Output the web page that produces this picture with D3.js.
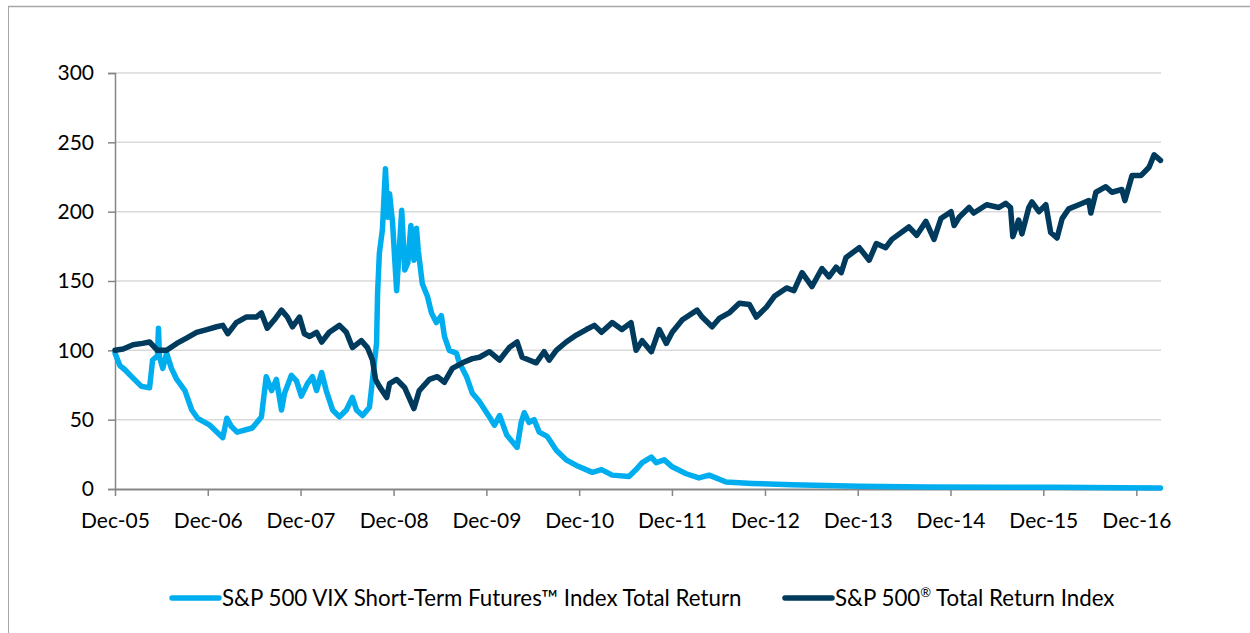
<!DOCTYPE html>
<html>
<head>
<meta charset="utf-8">
<script src="https://cdn.jsdelivr.net/npm/d3@7"></script>
<style>
  body { margin: 0; background: #fff; }
  text { font-family: Lato, 'Open Sans', sans-serif; fill: #000; }
</style>
</head>
<body>
<div id="chart"></div>
<script>
const tickLabels = ['Dec-05', 'Dec-06', 'Dec-07', 'Dec-08', 'Dec-09', 'Dec-10', 'Dec-11', 'Dec-12', 'Dec-13', 'Dec-14', 'Dec-15', 'Dec-16'];
const yTicks = [0, 50, 100, 150, 200, 250, 300];
const seriesNames = ['S&P 500 VIX Short-Term Futures\u2122 Index Total Return', 'S&P 500'];
const seriesSuffix = ['', '\u00ae'];
const seriesTail = ['', ' Total Return Index'];

const vixDates = [
  '2005-12-01', '2005-12-20', '2006-01-09', '2006-02-10', '2006-03-15', '2006-04-16', '2006-04-28', '2006-05-17',
  '2006-05-21', '2006-05-25', '2006-06-07', '2006-06-22', '2006-07-11', '2006-08-01', '2006-09-02', '2006-09-29',
  '2006-10-22', '2006-12-09', '2007-01-29', '2007-02-14', '2007-03-04', '2007-03-27', '2007-05-25', '2007-06-30',
  '2007-07-19', '2007-08-09', '2007-08-28', '2007-09-17', '2007-09-29', '2007-10-26', '2007-11-15', '2007-12-04',
  '2007-12-28', '2008-01-17', '2008-02-02', '2008-02-22', '2008-03-11', '2008-04-05', '2008-05-02', '2008-05-29',
  '2008-06-22', '2008-07-08', '2008-08-01', '2008-08-28', '2008-09-09', '2008-09-25', '2008-09-29', '2008-10-06',
  '2008-10-18', '2008-10-30', '2008-11-08', '2008-11-15', '2008-11-27', '2008-12-05', '2008-12-13', '2009-01-02',
  '2009-01-14', '2009-01-26', '2009-02-07', '2009-02-19', '2009-03-01', '2009-03-08', '2009-03-24', '2009-04-13',
  '2009-04-29', '2009-05-18', '2009-06-07', '2009-06-19', '2009-07-08', '2009-08-05', '2009-08-17', '2009-09-14',
  '2009-10-07', '2009-11-04', '2009-12-13', '2010-01-02', '2010-01-22', '2010-02-19', '2010-04-01', '2010-04-17',
  '2010-04-29', '2010-05-18', '2010-06-07', '2010-06-27', '2010-07-28', '2010-09-02', '2010-10-11', '2010-11-20',
  '2011-01-22', '2011-02-27', '2011-04-10', '2011-06-15', '2011-07-13', '2011-08-06', '2011-09-11', '2011-09-30',
  '2011-11-01', '2011-12-02', '2012-01-26', '2012-03-16', '2012-04-25', '2012-07-01', '2012-10-12', '2013-03-17',
  '2013-12-07', '2014-09-01', '2015-07-01', '2016-01-15', '2016-10-01', '2017-03-06'
];
const vixValues = [
  98, 89, 86, 80, 74, 73, 93, 96,
  116, 95, 87, 98, 87, 79, 71, 57,
  51, 46, 37, 51, 45, 41, 44, 52,
  81, 71, 79, 57, 69, 82, 78, 67,
  76, 81, 71, 84, 71, 57, 52, 57,
  66, 57, 53, 59, 79, 105, 141, 170,
  187, 231, 196, 213, 192, 167, 143, 201,
  158, 163, 190, 165, 188, 172, 148, 139,
  127, 120, 125, 110, 100, 98, 91, 81,
  69, 63, 52, 46, 53, 39, 30, 48,
  55, 48, 50, 41, 38, 28, 21, 17,
  12, 14, 10, 9, 14, 19, 23, 19,
  21, 16, 11, 8, 10, 5, 4, 3,
  2, 1.5, 1.2, 1.3, 0.9, 0.7
];

const spxDates = [
  '2005-12-01', '2006-01-02', '2006-02-10', '2006-03-19', '2006-04-16', '2006-05-17', '2006-06-22', '2006-08-01',
  '2006-09-10', '2006-10-18', '2006-11-27', '2007-01-05', '2007-01-29', '2007-02-18', '2007-03-23', '2007-05-01',
  '2007-06-10', '2007-06-30', '2007-07-23', '2007-08-20', '2007-09-17', '2007-10-10', '2007-10-30', '2007-11-27',
  '2007-12-16', '2008-01-06', '2008-02-02', '2008-02-22', '2008-03-23', '2008-05-02', '2008-05-29', '2008-06-22',
  '2008-07-27', '2008-08-20', '2008-09-09', '2008-09-21', '2008-10-06', '2008-11-04', '2008-11-15', '2008-12-13',
  '2009-01-14', '2009-02-19', '2009-03-12', '2009-04-21', '2009-05-22', '2009-06-19', '2009-07-20', '2009-08-29',
  '2009-10-07', '2009-11-04', '2009-12-13', '2010-01-22', '2010-03-01', '2010-04-01', '2010-04-21', '2010-05-18',
  '2010-06-15', '2010-07-16', '2010-08-05', '2010-09-02', '2010-10-11', '2010-11-20', '2010-12-29', '2011-01-30',
  '2011-02-27', '2011-04-10', '2011-05-18', '2011-06-23', '2011-07-13', '2011-08-06', '2011-09-11', '2011-10-12',
  '2011-11-09', '2011-12-02', '2012-01-11', '2012-03-09', '2012-03-29', '2012-05-07', '2012-06-04', '2012-07-13',
  '2012-08-22', '2012-10-01', '2012-10-28', '2012-12-06', '2013-01-07', '2013-02-24', '2013-03-25', '2013-04-26',
  '2013-06-04', '2013-07-13', '2013-08-10', '2013-09-07', '2013-09-27', '2013-10-16', '2013-12-07', '2014-01-15',
  '2014-02-12', '2014-03-21', '2014-04-14', '2014-06-20', '2014-07-21', '2014-08-26', '2014-09-27', '2014-10-24',
  '2014-12-03', '2014-12-15', '2015-01-04', '2015-02-12', '2015-03-02', '2015-04-22', '2015-06-09', '2015-07-06',
  '2015-07-25', '2015-08-03', '2015-08-26', '2015-09-08', '2015-10-05', '2015-10-17', '2015-11-14', '2015-12-11',
  '2015-12-30', '2016-01-24', '2016-02-13', '2016-03-10', '2016-04-19', '2016-05-28', '2016-06-05', '2016-06-25',
  '2016-08-03', '2016-08-27', '2016-10-05', '2016-10-17', '2016-11-14', '2016-12-19', '2017-01-20', '2017-02-09',
  '2017-03-06'
];
const spxValues = [
  100, 101, 104, 105, 106, 100, 100, 105,
  109, 113, 115, 117, 118, 112, 120, 124,
  124, 127, 116, 122, 129, 124, 117, 124,
  112, 110, 113, 106, 113, 118, 113, 102,
  107, 102, 93, 79, 74, 66, 76, 79,
  73, 58, 71, 79, 81, 77, 87, 91,
  94, 95, 99, 93, 102, 106, 95, 93,
  91, 99, 93, 100, 106, 111, 115, 118,
  113, 120, 115, 120, 100, 107, 99, 115,
  105, 113, 122, 129, 124, 117, 123, 127,
  134, 133, 124, 131, 139, 145, 143, 156,
  146, 159, 153, 160, 156, 167, 174, 165,
  177, 174, 180, 189, 183, 193, 180, 195,
  200, 190, 196, 203, 199, 205, 203, 206,
  203, 182, 194, 184, 203, 207, 200, 205,
  185, 181, 195, 202, 205, 208, 199, 214,
  218, 214, 216, 208, 226, 226, 232, 241,
  237
];

const W = 1250, H = 633;
const plot = {left: 115, right: 1161, top: 73, bottom: 489};
const parse = d3.timeParse('%Y-%m-%d');
const tickDates = tickLabels.map((d, i) => new Date(2005 + i, 11, 1));

const svg = d3.select('#chart')
  .append('svg')
  .attr('width', W)
  .attr('height', H);

// frame
svg.append('line')
  .attr('x1', 8).attr('x2', W).attr('y1', 6.5).attr('y2', 6.5)
  .attr('stroke', '#a6a6a6').attr('stroke-width', 1.5);
svg.append('line')
  .attr('x1', 8.5).attr('x2', 8.5).attr('y1', 6).attr('y2', H)
  .attr('stroke', '#a6a6a6').attr('stroke-width', 1);

const x = d3.scaleTime()
  .domain([tickDates[0], parse('2017-03-08')])
  .range([plot.left, plot.right]);
const y = d3.scaleLinear()
  .domain([0, 300])
  .range([plot.bottom, plot.top]);

svg.append('g')
  .selectAll('line')
  .data(yTicks.filter(d => d > 0))
  .enter()
  .append('line')
  .attr('x1', plot.left)
  .attr('x2', plot.right)
  .attr('y1', d => y(d))
  .attr('y2', d => y(d))
  .attr('stroke', '#d9d9d9')
  .attr('stroke-width', 1.5);

const yAxis = svg.append('g')
  .attr('transform', `translate(${plot.left},0)`)
  .call(d3.axisLeft(y).tickValues(yTicks).tickSize(7).tickPadding(14).tickFormat(d3.format('d')));
yAxis.select('.domain').attr('stroke', '#868686').attr('stroke-width', 1.5);
yAxis.selectAll('.tick line').attr('stroke', '#868686').attr('stroke-width', 1.5);
yAxis.selectAll('.tick text').attr('font-size', 21).attr('font-family', 'Lato');

const xAxis = svg.append('g')
  .attr('transform', `translate(0,${plot.bottom})`)
  .call(d3.axisBottom(x).tickValues(tickDates).tickSize(7).tickSizeOuter(0).tickPadding(17)
    .tickFormat((d, i) => tickLabels[i]));
xAxis.select('.domain').attr('stroke', '#868686').attr('stroke-width', 2);
xAxis.selectAll('.tick line').attr('stroke', '#868686').attr('stroke-width', 1.5);
xAxis.selectAll('.tick text').attr('font-size', 21).attr('font-family', 'Lato');

const series = [
  {color: '#00aeef', data: vixDates.map((d, i) => ({x: parse(d), y: vixValues[i]}))},
  {color: '#003a5d', data: spxDates.map((d, i) => ({x: parse(d), y: spxValues[i]}))}
];

const linePath = d3.line()
  .x(d => x(d.x))
  .y(d => y(d.y));

svg.append('g')
  .selectAll('path')
  .data(series)
  .enter()
  .append('path')
  .attr('fill', 'none')
  .attr('stroke', d => d.color)
  .attr('stroke-width', 5.5)
  .attr('stroke-linejoin', 'round')
  .attr('stroke-linecap', 'round')
  .attr('d', d => linePath(d.data));

const legendX = [172, 785];
const legend = svg.append('g')
  .selectAll('g')
  .data(series)
  .enter()
  .append('g')
  .attr('transform', (d, i) => `translate(${legendX[i]},598)`);
legend.append('line')
  .attr('x1', 0).attr('x2', 47)
  .attr('stroke', d => d.color)
  .attr('stroke-width', 5.5)
  .attr('stroke-linecap', 'round');
const legendText = legend.append('text')
  .attr('x', 50)
  .attr('y', 8)
  .attr('font-size', 22.3);
legendText.append('tspan').text((d, i) => seriesNames[i]);
legendText.append('tspan')
  .attr('font-size', 13)
  .attr('dy', -9)
  .text((d, i) => seriesSuffix[i]);
legendText.append('tspan')
  .attr('dy', (d, i) => (seriesSuffix[i] ? 9 : 0))
  .text((d, i) => seriesTail[i]);
</script>
</body>
</html>
